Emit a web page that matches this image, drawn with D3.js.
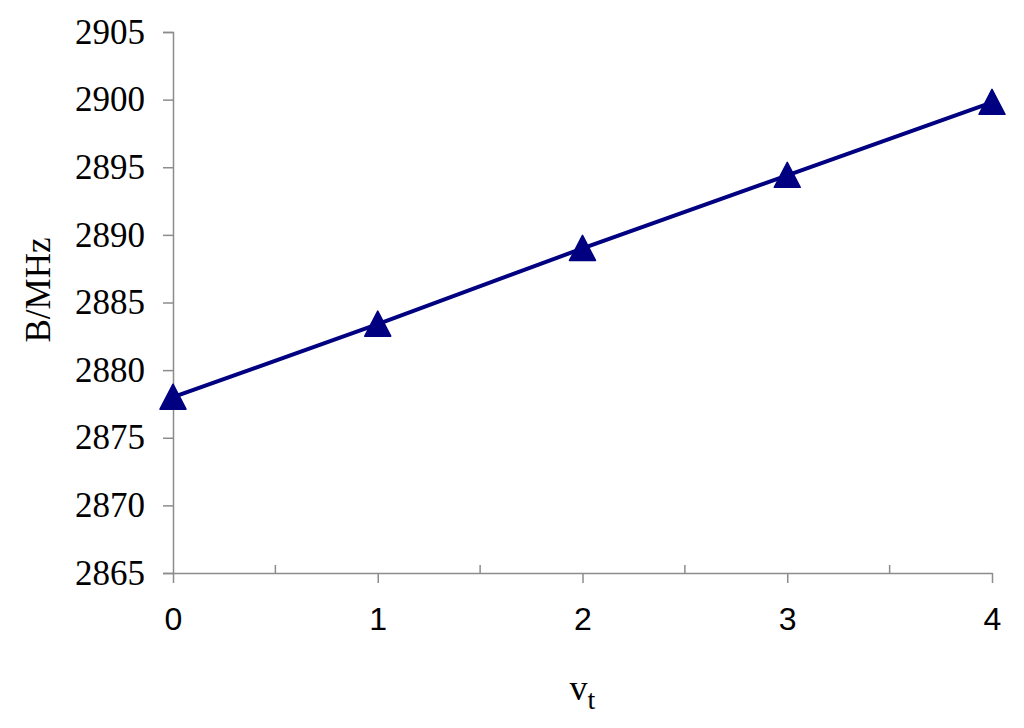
<!DOCTYPE html>
<html>
<head>
<meta charset="utf-8">
<script src="https://cdn.jsdelivr.net/npm/d3@7"></script>
<style>
  body { margin: 0; background: #fff; }
</style>
</head>
<body>
<div id="chart"></div>
<script>
// data
var vtValues = [0, 1, 2, 3, 4];
var bValues = [2878.0, 2883.4, 2889.0, 2894.4, 2899.8];
var yTicks = [2865, 2870, 2875, 2880, 2885, 2890, 2895, 2900, 2905];
var xTicks = [0, 1, 2, 3, 4];
var xMinorTicks = [0.5, 1.5, 2.5, 3.5];

var W = 1024, H = 728;
var m = { top: 32, right: 32, bottom: 155, left: 173 };

var svg = d3.select("#chart")
    .append("svg")
    .attr("width", W)
    .attr("height", H);

var x = d3.scaleLinear().domain([0, 4]).range([m.left, W - m.right]);
var y = d3.scaleLinear().domain([2865, 2905]).range([H - m.bottom, m.top]);

var axisColor = "#8c8c8c";

// y axis
var gy = svg.append("g")
    .attr("transform", "translate(" + m.left + ",0)")
    .call(d3.axisLeft(y).tickValues(yTicks).tickFormat(d3.format("d"))
        .tickSize(10).tickPadding(18));
gy.selectAll("path, line").attr("stroke", axisColor).attr("stroke-width", 1.5);
gy.selectAll("text")
    .attr("font-family", "Liberation Serif, Times New Roman, serif")
    .attr("font-size", 35)
    .attr("fill", "#000");

// x axis, major ticks outward
var gx = svg.append("g")
    .attr("transform", "translate(0," + y(2865) + ")")
    .call(d3.axisBottom(x).tickValues(xTicks).tickFormat(d3.format("d"))
        .tickSize(10).tickPadding(24).tickSizeOuter(0));
gx.selectAll("path, line").attr("stroke", axisColor).attr("stroke-width", 1.5);
gx.selectAll("text")
    .attr("font-family", "Liberation Sans, Arial, sans-serif")
    .attr("font-size", 32)
    .attr("fill", "#000");

// minor ticks pointing inward
svg.append("g")
    .selectAll("line")
    .data(xMinorTicks)
    .enter()
    .append("line")
    .attr("x1", function (d) { return x(d); })
    .attr("x2", function (d) { return x(d); })
    .attr("y1", y(2865))
    .attr("y2", y(2865) - 8)
    .attr("stroke", axisColor)
    .attr("stroke-width", 1.5);

// series line
var line = d3.line()
    .x(function (d, i) { return x(vtValues[i]); })
    .y(function (d) { return y(d); });

svg.append("path")
    .datum(bValues)
    .attr("d", line)
    .attr("fill", "none")
    .attr("stroke", "#000080")
    .attr("stroke-width", 4);

// triangle markers
svg.append("g")
    .selectAll("path")
    .data(bValues)
    .enter()
    .append("path")
    .attr("transform", function (d, i) {
        return "translate(" + x(vtValues[i]) + "," + y(d) + ")";
    })
    .attr("d", "M0,-13 L13,12 L-13,12 Z")
    .attr("fill", "#000080")
    .attr("stroke", "#000080")
    .attr("stroke-width", 1.5)
    .attr("stroke-linejoin", "round");

// axis titles
svg.append("text")
    .attr("transform", "translate(50,290) rotate(-90)")
    .attr("text-anchor", "middle")
    .attr("font-family", "Liberation Serif, Times New Roman, serif")
    .attr("font-size", 35)
    .text("B/MHz");

var xt = svg.append("text")
    .attr("x", x(2))
    .attr("y", 700)
    .attr("text-anchor", "middle")
    .attr("font-family", "Liberation Serif, Times New Roman, serif")
    .attr("font-size", 36);
xt.append("tspan").text("v");
xt.append("tspan").attr("dy", 9).attr("font-size", 28).text("t");
</script>
</body>
</html>
